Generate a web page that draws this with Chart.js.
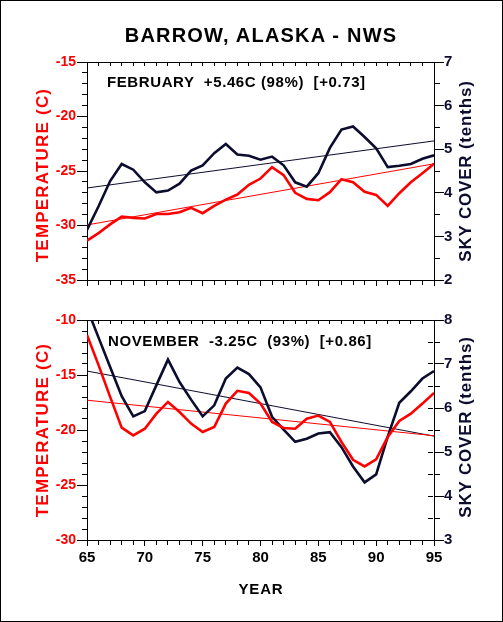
<!DOCTYPE html>
<html>
<head>
<meta charset="utf-8">
<script src="https://cdn.jsdelivr.net/npm/chart.js@4.4.1/dist/chart.umd.min.js"></script>
<style>
  body { margin: 0; background: #fff; }
  #page { position: relative; width: 503px; height: 622px; overflow: hidden; background: #fff;
          font-family: "Liberation Sans", Arial, sans-serif; font-weight: bold; }
  #page canvas { position: absolute; left: 0; }
  .frame { position: absolute; left: 0; top: 0; width: 503px; height: 622px; box-sizing: border-box;
           border: 1px solid #000; pointer-events: none; }
  .txt { position: absolute; white-space: pre; line-height: 1; transform: translate(-50%, -50%); }
  .lbl { position: absolute; white-space: pre; line-height: 1; transform: translateY(-50%); }
  .rot { transform: translate(-50%, -50%) rotate(-90deg); }
</style>
</head>
<body>
<div id="page">
  <canvas id="feb" width="503" height="300" style="top:0"></canvas>
  <canvas id="nov" width="503" height="322" style="top:300px"></canvas>

  <div class="txt" style="left:261px; top:35px; font-size:20px; letter-spacing:1.2px;">BARROW, ALASKA - NWS</div>

  <div class="lbl" style="left:107px; top:81px; font-size:15px; letter-spacing:0.6px;">FEBRUARY  +5.46C (98%)  [+0.73]</div>
  <div class="lbl" style="left:108px; top:340px; font-size:15px; letter-spacing:0.6px;">NOVEMBER  -3.25C  (93%)  [+0.86]</div>

  <div class="txt rot" style="left:42px; top:175px; font-size:17px; letter-spacing:1.2px; color:#ff0000;">TEMPERATURE (C)</div>
  <div class="txt rot" style="left:42px; top:430px; font-size:17px; letter-spacing:1.2px; color:#ff0000;">TEMPERATURE (C)</div>
  <div class="txt rot" style="left:465px; top:171px; font-size:17px; letter-spacing:0.8px; color:#0c0c2e;">SKY COVER (tenths)</div>
  <div class="txt rot" style="left:465px; top:427px; font-size:17px; letter-spacing:0.8px; color:#0c0c2e;">SKY COVER (tenths)</div>

  <div class="txt" style="left:261px; top:588px; font-size:15px; letter-spacing:0.8px;">YEAR</div>
  <div class="frame"></div>
</div>

<script>
// years 1965 - 1995
const years = [65, 66, 67, 68, 69, 70, 71, 72, 73, 74, 75, 76, 77, 78, 79, 80,
               81, 82, 83, 84, 85, 86, 87, 88, 89, 90, 91, 92, 93, 94, 95];

// February
const febTemp = [-31.39, -30.7, -29.9, -29.18, -29.3, -29.36, -28.94, -28.94, -28.78, -28.38, -28.87,
                 -28.2, -27.62, -27.16, -26.27, -25.69, -24.65, -25.38, -27.0, -27.56, -27.68,
                 -26.94, -25.75, -26.03, -26.91, -27.19, -28.2, -27.04, -26.03, -25.2, -24.34];
const febSky = [3.15, 3.69, 4.27, 4.66, 4.53, 4.24, 4.01, 4.05, 4.21, 4.51, 4.63,
                4.91, 5.12, 4.88, 4.85, 4.76, 4.83, 4.63, 4.24, 4.14, 4.45,
                5.03, 5.45, 5.52, 5.28, 5.02, 4.59, 4.62, 4.66, 4.78, 4.86];

// November
const novTemp = [-11.36, -14.1, -16.99, -19.79, -20.49, -19.88, -18.51, -17.45, -18.36, -19.42, -20.18,
                 -19.73, -17.6, -16.44, -16.63, -17.6, -19.27, -19.82, -19.88, -18.97, -18.69,
                 -19.27, -21.09, -22.71, -23.31, -22.67, -20.64, -19.18, -18.51, -17.6, -16.63];
const novSky = [8.27, 7.6, 6.93, 6.27, 5.81, 5.93, 6.52, 7.1, 6.59, 6.19, 5.81,
                6.06, 6.67, 6.92, 6.77, 6.47, 5.8, 5.51, 5.23, 5.3, 5.42,
                5.45, 5.11, 4.67, 4.31, 4.49, 5.35, 6.12, 6.38, 6.67, 6.84];

// linear trend end points (1965, 1995)
const trendYears = [65, 95];
const febTempTrend = [-29.95, -24.34];
const febSkyTrend = [4.11, 5.19];
const novTempTrend = [-17.29, -20.52];
const novSkyTrend = [6.84, 5.36];

// axis ranges
const febTempRange = [-35, -15];
const febSkyRange = [2, 7];
const novTempRange = [-30, -10];
const novSkyRange = [3, 8];

const RED = '#ff0000';
const DARK = '#0c0c2e';
const FONT = '"Liberation Sans", Arial, sans-serif';
const leftFont = { family: FONT, size: 14, weight: 'bold' };
const rightFont = { family: FONT, size: 15, weight: 'bold' };
const xFont = { family: FONT, size: 15, weight: 'bold' };

function pts(xs, ys) {
  return xs.map((x, i) => ({ x: x, y: ys[i] }));
}

function makePanel(canvasId, cfg) {
  const plotW = 347;
  return new Chart(document.getElementById(canvasId), {
    type: 'line',
    data: {
      datasets: [
        { data: pts(trendYears, cfg.skyTrend), yAxisID: 'y2', borderColor: DARK, borderWidth: 1, order: 4 },
        { data: pts(trendYears, cfg.tempTrend), yAxisID: 'y', borderColor: RED, borderWidth: 1, order: 3 },
        { data: pts(years, cfg.sky), yAxisID: 'y2', borderColor: DARK, borderWidth: 2.6, order: 2 },
        { data: pts(years, cfg.temp), yAxisID: 'y', borderColor: RED, borderWidth: 2.6, order: 1 }
      ]
    },
    options: {
      responsive: false,
      animation: false,
      events: [],
      elements: { point: { radius: 0 }, line: { tension: 0, fill: false } },
      layout: { padding: { top: cfg.padTop, left: 0, right: 0, bottom: 0 } },
      plugins: { legend: { display: false }, tooltip: { enabled: false } },
      scales: {
        x: {
          type: 'linear', position: 'bottom', min: 65, max: 95,
          afterFit: s => { s.height = cfg.xHeight; },
          afterBuildTicks: s => { s.ticks = years.map(v => ({ value: v })); },
          ticks: {
            autoSkip: false, maxRotation: 0, color: '#000', font: xFont, padding: 3,
            callback: v => (cfg.xLabels && v % 5 === 0) ? String(v) : ''
          },
          grid: {
            drawOnChartArea: true, color: '#000', lineWidth: 1,
            tickLength: 6, tickColor: '#000', tickWidth: 1,
            tickBorderDash: c => (c.tick && c.tick.value % 5 === 0) ? [] : [4, 100]
          },
          // grid lines cut to short inward ticks along the top edge
          border: { display: true, color: '#000', width: 1, dash: [4, 1000] }
        },
        y: {
          type: 'linear', position: 'left', min: cfg.tempRange[0], max: cfg.tempRange[1],
          afterFit: s => { s.width = 87; },
          ticks: {
            stepSize: 1, autoSkip: false, color: RED, font: leftFont, padding: 1,
            callback: v => v % 5 === 0 ? String(v) : ''
          },
          grid: {
            drawOnChartArea: true, lineWidth: 1,
            // only the top grid line is shown: it closes the box
            color: c => (c.tick && c.tick.value === cfg.tempRange[1]) ? '#000' : 'rgba(0,0,0,0)',
            tickLength: 10, tickColor: '#000', tickWidth: 1,
            tickBorderDash: c => (c.tick && c.tick.value % 5 === 0) ? [] : [0, 5, 5, 100]
          },
          border: { display: true, color: '#000', width: 1 }
        },
        y2: {
          type: 'linear', position: 'right', min: cfg.skyRange[0], max: cfg.skyRange[1],
          afterFit: s => { s.width = 69; },
          ticks: {
            stepSize: 0.5, autoSkip: false, color: DARK, font: rightFont, padding: 0,
            callback: v => Number.isInteger(v) ? String(v) : ''
          },
          grid: {
            drawOnChartArea: cfg.innerRightTicks, color: '#000', lineWidth: 1,
            tickLength: 10, tickColor: '#000', tickWidth: 1,
            tickBorderDash: c => (c.tick && Number.isInteger(c.tick.value)) ? [] : [5, 100]
          },
          border: { display: true, color: '#000', width: 1, dash: [0, plotW - 6, 5, 1000] }
        }
      }
    }
  });
}

makePanel('feb', {
  temp: febTemp, sky: febSky, tempTrend: febTempTrend, skyTrend: febSkyTrend,
  tempRange: febTempRange, skyRange: febSkyRange,
  padTop: 62, xHeight: 20, xLabels: false, innerRightTicks: false
});

makePanel('nov', {
  temp: novTemp, sky: novSky, tempTrend: novTempTrend, skyTrend: novSkyTrend,
  tempRange: novTempRange, skyRange: novSkyRange,
  padTop: 20, xHeight: 82, xLabels: true, innerRightTicks: true
});
</script>
</body>
</html>
